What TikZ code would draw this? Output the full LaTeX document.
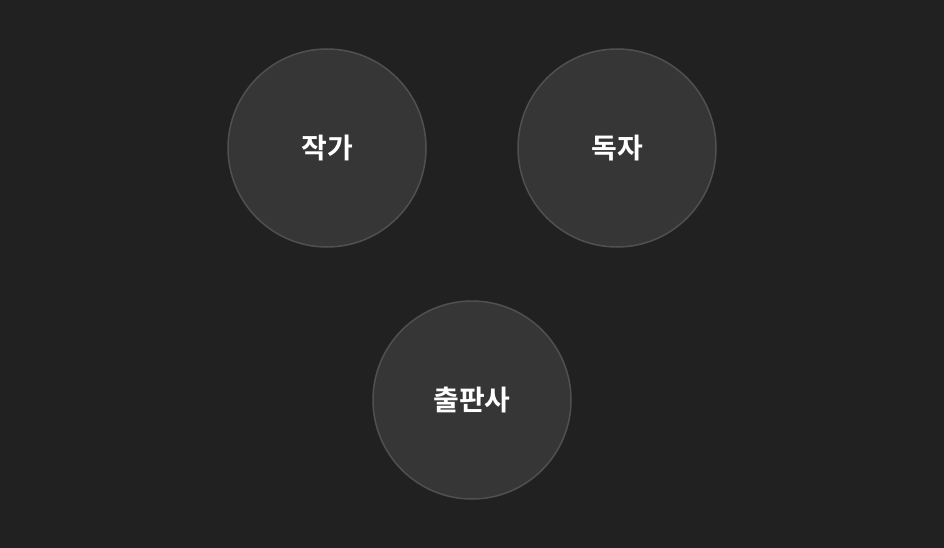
\documentclass[tikz,border=0pt]{standalone}
\usepackage{fontspec}
\newfontfamily\cjk{Noto Sans CJK KR}[BoldFont={Noto Sans CJK KR Bold}]
\usetikzlibrary{backgrounds}
\definecolor{bgDark}{RGB}{33,33,33}
\definecolor{nodeFill}{RGB}{54,54,54}
\definecolor{nodeEdge}{RGB}{80,80,80}
\definecolor{linkGreen}{RGB}{46,204,90}
\begin{document}
\begin{tikzpicture}[x=1pt,y=-1pt,
		role/.style={circle,fill=nodeFill,draw=nodeEdge,line width=1.5pt,minimum size=198pt,inner sep=0pt,text=white,font=\cjk\bfseries\fontsize{28}{32}\selectfont},
		link/.style={draw=linkGreen,line width=6pt}]
		% Canvas
		\fill[bgDark] (0,0) rectangle (944,548);
		\useasboundingbox (0,0) rectangle (944,548);
		
		% Roles
		\node[role] (writer) at (327,148) {작가};
		\node[role] (reader) at (617,148) {독자};
		\node[role] (publisher) at (472,400) {출판사};
		
		% Links
		\begin{scope}[on background layer]
			\path (writer) edge[link] (reader);
			\path (writer) edge[link] (publisher);
			\path (reader) edge[link] (publisher);
		\end{scope}
	\end{tikzpicture}
\end{document}
